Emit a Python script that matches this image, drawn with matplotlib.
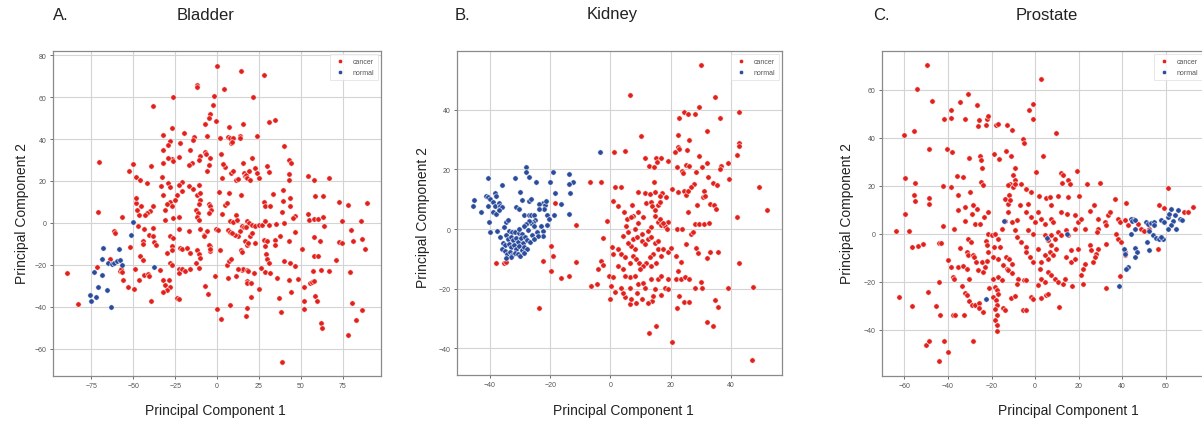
import numpy as np
import matplotlib
matplotlib.use("Agg")
import matplotlib.pyplot as plt

plt.rcParams['font.family'] = ['Liberation Sans', 'DejaVu Sans']

# ---- donnees (PC1, PC2) ----
bladder_cancer = [
    (0, 75), (-12, 66), (-12, 65), (-26, 60), (-38.4, 55.6), (-2, 60.4), (-2.2, 56.4), (-4, 52), (-5, 50),
    (-0.5, 48.5), (-7, 47), (-26.6, 45.3), (-32, 42), (-20, 43), (-13.6, 41), (-14.4, 39.7), (-6, 41.6),
    (-28, 39), (-29, 37), (-32, 35), (-22, 38), (-16, 35), (-7, 34), (-6.3, 33), (-10, 32), (-27, 30.5),
    (-26, 29.5), (-29, 31), (-32, 28.6), (-39.4, 27), (-22.6, 31.5), (-15, 28.6), (-10.6, 30), (-4, 31),
    (-5, 27.8), (-6, 25), (-16.5, 27.5), (-50, 28), (-52.6, 24.6), (-70.5, 29), (-48.6, 22), (-46, 20.7),
    (-42, 19), (-33, 21.8), (-29, 19), (-27.8, 17), (-32, 13.5), (-33.3, 17.5), (-20.7, 19.5), (-23, 18),
    (-17, 17.5), (-10.6, 18), (-14.6, 16), (-12, 13.5), (-10, 14.3), (-5, 9), (-10.4, 11), (-11, 9),
    (-12.4, 6), (-11.6, 4.8), (-12, 3), (-11, 1.6), (-4, 8), (-3.8, 6.4), (-4.8, 4.8), (-21, 15),
    (-24, 13.5), (-28, 10), (-25, 11), (-27, 8), (-31, 6.4), (-30, 9), (-23, 3), (-26, 2.4), (-31, 1.3),
    (-38.4, 8), (-40, 5.6), (-42, 4.8), (-43, 3.6), (-46.5, 4), (-47.6, 6.4), (-48.6, 9.5), (-48.6, 12),
    (-45.5, 8), (-71, 5), (-57, 3), (-61.4, -4), (-60.8, -5), (-52, -11.5), (-47, -1.6), (-43.5, -3),
    (-38.4, -2.4), (-40.4, -5.6), (-38.4, -6.4), (-44.5, -8.7), (-44, -10), (-37.4, -9.2), (-36.4, -10.3),
    (-28, -6.4), (-26, -7), (-27, -11), (-27, -12.7), (-30, -14.3), (-22, -12), (-21, -12.6), (-18, -12),
    (-16, -14.3), (-12, -12.7), (-10.6, -15), (-10, -16.7), (-4, -13.5), (-4, -11), (-8, -5.6), (-17, -4),
    (-10, -3), (-6, -4), (-46, -16), (-44.5, -17.5), (-49, -22), (-43.5, -24.6), (-41.5, -24.3),
    (-40.5, -25.4), (-46.5, -27), (-56.3, -27.3), (-53, -30.5), (-49.6, -31.5), (-34, -22.6), (-32, -27),
    (-31, -29.4), (-28.6, -27), (-28, -30.5), (-30, -31.8), (-32, -33), (-28, -19), (-26.6, -19.9),
    (-23, -22), (-22.6, -23.7), (-21, -22), (-19, -23), (-24, -35.8), (-22.5, -36.3), (-39.4, -37),
    (-16, -22), (-12.4, -19), (-11, -21.6), (-7, -30), (-5.5, -34), (-1, -25.4), (0, -41), (-63.8, -17),
    (-72, -21), (-58, -23), (-83, -38.5), (-89.8, -24), (-23, -3), (-4.8, -10.3), (-7.5, -6.4),
    (-4.3, -12.4), (-57.6, -21.8), (-57, -23.5),
    (14.2, 72.3), (28.2, 70.4), (4.2, 64), (21.8, 60), (30.8, 48), (34.8, 49.3), (7.2, 45.8), (15.6, 47),
    (1.8, 40.5), (6.4, 41), (7.8, 40.5), (9.8, 40.5), (13.8, 41.6), (13.8, 40.5), (8.2, 38), (9.2, 38.5),
    (24, 41.3), (39.8, 36.6), (4.8, 26.5), (8.2, 24), (2.8, 21.5), (11.2, 20.7), (15.8, 28.6), (16, 23.8),
    (16.8, 22.3), (17.4, 23), (17.8, 21.5), (20.8, 31), (22.8, 26.2), (23.8, 23.8), (24.8, 21.5),
    (19.4, 24.6), (19.8, 20.3), (29.8, 27.3), (31.2, 24.5), (43.2, 30), (44.2, 28.6), (43.2, 23.5),
    (43.2, 20.7), (54.2, 22.3), (58.2, 20.3), (66.8, 21.5), (1.2, 14.6), (7.2, 14.3), (14.4, 13.5),
    (4.8, 8.7), (5.8, 9.5), (3.2, 4.5), (11.2, 4), (7.6, 0.8), (9.8, 0.3), (11.8, 1.3), (18.2, 0.8),
    (19.2, 0), (20.8, -0.8), (22.8, -1.3), (24.8, -0.8), (26.8, -0.8), (27.8, 9.9), (28.4, 8), (31.8, 8),
    (28.8, 0.8), (30.8, -0.8), (35.2, -0.3), (33.4, 14), (39.4, 15.9), (39.4, 10.3), (38.8, 5), (43.8, 12),
    (43.8, 8), (46.4, 3.5), (45.6, 2.4), (54.2, 4.3), (54.8, 1.3), (58.2, 1.9), (60.2, 2), (63.4, 2.9),
    (63.8, -1.6), (58.8, 12.7), (63.2, 12.7), (72.8, 10), (78.2, 8.7), (89.4, 9.5), (74.8, 0.8),
    (80.2, -3.2), (85.8, 0.8), (86.8, -7.6), (88.2, -12.4), (81.4, -8.7), (72.8, -9.2), (74.8, -9.5),
    (71.4, -17.8), (79.2, -23.5), (80.8, -38), (86.8, -41.3), (83.2, -46.4), (78.2, -53.3), (38.8, -66.5),
    (62.4, -47.7), (62.8, -50), (51.8, -37), (51.8, -41), (58.8, -35), (59.8, -37.4), (55.4, -28.6),
    (56.8, -28), (57.8, -27.8), (51.8, -30.5), (38.2, -42.6), (44, -33), (37.2, -35.8), (43.2, -27),
    (39.8, -18.3), (43.8, -19), (46.8, -20.7), (42.8, -8.7), (46.4, -4.5), (37.8, -6.4), (39.8, 0),
    (50.8, -12.4), (48.4, -26.5), (57.2, -23), (62.4, -22.3), (66.8, -22.7), (58.2, -15.6), (60.2, -15.6),
    (57.8, -6.8), (61.8, -8.6), (34.8, -8), (34.8, -10.3), (27.8, -8.3), (29.8, -8.4), (28.8, -11),
    (29.2, -14.6), (29.8, -17), (30.8, -19), (26.4, -21.5), (28.8, -23.5), (31.8, -23.8), (35.8, -26.2),
    (24.8, -31.5), (20.2, -35.3), (18.2, -40.5), (17.2, -44.5), (14.8, -22.3), (15.8, -22), (17.8, -22.3),
    (18.8, -23), (17.8, -27.5), (18.2, -28.6), (20.4, -28.6), (22.4, -23.8), (12.4, -22), (11.2, -25.4),
    (8, -39.3), (2.4, -46), (6.8, -26.2), (6.2, -20), (7.2, -18.3), (1.8, -12.7), (8.2, -17), (14.4, -12.7),
    (14.8, -14), (16.8, -8.7), (17.8, -10.3), (18.8, -9.8), (22.8, -9.5), (19.8, -6.4), (21.2, -4.8),
    (14.8, -1.6), (16.4, -2), (17.2, -2), (13.8, -4), (12.8, -6), (10.8, -5.6), (6.8, -3.2), (7.8, -4.5),
    (8.8, -5), (-0.8, -2.7), (0.8, -3.2), (2.4, 32.8), (3.4, 28.3), (9.8, 24.8), (12.7, 20.8),
]
bladder_normal = [
    (-50, 0.3), (-51.2, -5.6), (-37.8, -21), (-58.7, -12.4), (-68, -12), (-68.5, -17), (-65.3, -19),
    (-63, -19.4), (-61.8, -19), (-59.8, -18.3), (-57.7, -17.5), (-56.7, -20), (-73.4, -23.4), (-68.5, -25),
    (-71, -30.5), (-65.5, -31.8), (-76, -34.5), (-72.6, -35.3), (-75, -37.4), (-63.6, -40),
]

kidney_cancer = [
    (-37.8, -11.2), (-35.2, -11.2), (-34.6, -11), (-18.4, 8.9), (-11.4, 1.3), (-19.8, -5.6), (-19.2, -8.9),
    (-19.8, -14), (-22.5, -10.6), (-16.3, -16.4), (-13.9, -15.7), (-11.4, -11), (-23.6, -26.5), (-6.8, 15.7),
    (-3.3, 15.9), (1.2, 25.7), (-1.3, 2.8), (-2.6, -3.1), (-6.5, -19.2), (-4.4, -18.5), (-4.1, -13.4),
    (-3, -10.6), (-2.4, -12), (-0.5, -15.7), (-0.2, -23.5), (1.6, 14), (1, 9.5), (0.5, -6), (1, -8.5),
    (0.2, -19), (1.5, -21), (0.8, -16),
    (30.1, 55), (6.6, 45.1), (34.8, 44.2), (29.5, 40.8), (24.3, 39.4), (25.7, 38.6), (28.2, 38.6),
    (22.7, 37.1), (36.2, 37.2), (42.8, 39.1), (32.1, 33), (22.4, 31.7), (25.9, 30), (10, 31.3), (42.8, 28.7),
    (42.6, 28), (41.9, 24.8), (4.7, 26.1), (22.4, 27.6), (22.9, 26.8), (21.5, 26), (25.5, 26.5), (29.5, 24.6),
    (11.4, 23.7), (15, 24), (16.7, 24), (15.5, 22.6), (19.1, 22.9), (12.8, 21.3), (14.4, 20.7), (22.2, 20.7),
    (23.8, 19.4), (24.0, 18.8), (25.1, 21.5), (26, 21), (28.4, 19.2), (30.4, 20.7), (32.1, 22.1), (36.7, 21),
    (36.5, 20.1), (38.9, 22), (32.3, 17.6), (33.9, 15.3), (35.4, 14.8), (39.2, 16.8), (3.4, 14), (27.7, 15.1),
    (26.8, 14), (31, 12.9), (20.5, 13.6), (22.4, 12.5), (24.4, 12.9), (25.1, 11.4), (25.7, 12.9), (49.4, 14),
    (51.9, 6.4), (14.3, 15.9), (17.1, 12.1), (16.3, 11.2), (18.3, 10.6), (9.2, 12.3), (11.4, 12.1), (13, 11.7),
    (14.7, 12.3), (11.7, 8.7), (13.3, 9), (13.9, 7.8), (15.8, 8.1), (16.5, 9), (14.9, 6.4), (25.7, 5.6),
    (28.8, 8.1), (30.7, 10.6), (31.4, 11.2), (32.9, 8.4), (34.2, 8.1), (35.1, 6.7), (7.3, 8.1), (9.2, 5.6),
    (4.5, 5.6), (7.5, 4.5), (5.5, 3.4), (2.5, 7.8), (42, 4.1), (19.1, 2.5), (15.8, 2.5), (16.7, 1.3), (18, 1.1),
    (18.9, 0), (22.2, 0), (23.8, 0.2), (26.6, -1.7), (27.3, -1.1), (28.2, 1.7), (29.3, 1.7), (31, 1.7),
    (32.6, 1.9), (32.9, -7.6), (35.6, -7.6), (25.1, -5), (28.4, -6.2), (29, -8.1), (32.1, -9.8),
    (42.8, -11.2), (38.9, -19.6), (47.4, -19.4), (21.8, -8.9), (23.5, -11), (22.4, -14), (21.8, -16.6),
    (23.5, -16.8), (24.6, -16.2), (26, -16.8), (27.9, -19.9), (30.4, -19.6), (30.1, -17.6), (22.9, -22.4),
    (24.3, -24.3), (25.9, -24.3), (22.2, -26.3), (34.7, -23.7), (35.6, -26), (32.1, -31), (33.9, -32.4),
    (15, -32.4), (12.8, -34.9), (20.5, -37.7), (46.9, -43.8), (19.1, -16.8), (18, -19.6), (19.1, -20.1),
    (16.9, -22.1), (13.9, -24), (14.1, -22.4), (14.7, -20.1), (8.6, -24.6), (6.4, -25.2), (6.9, -23.5),
    (10.3, -23.3), (12.5, -24.6), (4.7, -22.9), (4, -21.3), (3.6, -19.6), (6.4, -19.9), (8.9, -21.3),
    (6.4, -16.2), (8.1, -15.7), (9.2, -18.5), (10.8, -17.9), (11.4, -19.6), (13.6, -16.8), (15.8, -16.6),
    (16.9, -15.7), (6.4, -11.2), (7.5, -8.9), (8.6, -10.1), (9.5, -11.2), (8.1, -6.7), (6.9, -5.6),
    (5.8, -4.5), (7.5, -3.4), (8.9, -2.8), (10.3, -3.9), (11.4, -5), (12.5, -3.4), (13.6, -2.8), (14.7, -4.5),
    (15.8, -3.9), (15.8, -6.7), (14.1, -8.4), (13, -9.5), (11.9, -11.2), (10.8, -12.3), (9.7, -13.4),
    (13.6, -12.3), (15.2, -11.2), (16.9, -8.9), (17.4, -6.7), (19.1, -7.8), (20.2, -6.2), (2.5, -6.7),
    (3.6, -8.4), (4.7, -9.5), (2.5, -12.3), (4.2, -13.4), (4.7, -15.7), (16.3, 3.4), (14.7, 4.5),
    (17.4, 2.2), (13.6, 0.6), (12.5, -0.6), (10.3, -1.7), (8.1, 0), (5.8, -1.1), (4.2, -2.2), (9.2, 2.2),
    (10.8, 3.9), (6.9, 3.9), (5.3, 1.1),
]
kidney_normal = [
    (-27.9, 20.7), (-27.9, 19), (-27.1, 17.3), (-31.8, 17.1), (-40.7, 17.1), (-35.9, 14.8), (-24.6, 15.9),
    (-19.1, 19), (-13.6, 18.5), (-12.3, 15.9), (-13.6, 15.1), (-13.4, 12.1), (-20, 15.7), (-18.5, 12),
    (-16.3, 8.3), (-13.9, 5.1), (-18.7, 4.8), (-30.1, 12.3), (-41.4, 11.2), (-40.7, 10.6), (-39.8, 10),
    (-38.4, 12.1), (-37.9, 11.2), (-45.3, 9.7), (-45.6, 7.6), (-43.1, 5.9), (-40.5, 7.8), (-40.3, 2.5),
    (-39, 9), (-38.4, 7.8), (-38.9, 5.6), (-38.1, 5), (-37, 8.7), (-36.6, 7.8), (-35.9, 7.3), (-37, 6.4),
    (-34.8, 2.5), (-34.1, 3.1), (-37.6, -0.6), (-39.8, -0.9), (-31.2, 7.5), (-30.4, 6.7), (-29.3, 9.8),
    (-26.9, 9.5), (-26.3, 10), (-28.8, 4.7), (-27.1, 4.8), (-26.3, 4.7), (-25.5, 4.8), (-22.5, 8.9),
    (-21.8, 8.2), (-21.4, 9.5), (-22.2, 6.7), (-23.8, 8.4), (-23.6, 6.9), (-21.1, 4.8), (-20.5, 3.4),
    (-21.1, 1.5), (-24.9, 3.1), (-25.8, 2.5), (-26.3, 2.2), (-25.5, 1.1), (-23, 1.1), (-22.5, -0.6),
    (-22.5, -2.2), (-24.4, -1.1), (-24, -2.2), (-27.1, 2.8), (-27.9, 1.7), (-28.8, 1.1), (-33.7, -0.6),
    (-32.6, -0.9), (-31.5, -1.1), (-30.4, -1.3), (-29.3, -1.7), (-34.6, -2.1), (-33.9, -3.3), (-33.1, -2.5),
    (-32.2, -3.8), (-31.4, -2.9), (-30.7, -4.2), (-29.8, -3.1), (-29.1, -4.5), (-28.3, -2.6), (-27.6, -3.6),
    (-35.8, -4.6), (-34.9, -5.4), (-33.8, -4.9), (-32.9, -6.1), (-32.1, -5.2), (-31.2, -6.5), (-30.3, -5.6),
    (-29.5, -7.0), (-28.6, -5.9), (-27.8, -6.8), (-36.1, -6.6), (-35.1, -7.3), (-34.3, -8.2), (-33.4, -7.6),
    (-32.6, -8.7), (-31.6, -7.9), (-30.8, -8.5), (-29.9, -9.0), (-32.9, -9.4), (-34.8, -9.7), (-26.8, -4.4),
    (-26.1, -1.9), (-25.2, -3.2), (-27.4, -0.3), (-30.2, 0.2), (-35.4, 0.8), (-36.7, -2.6), (-28.7, -8.1),
    (-3.5, 25.7),
]

prostate_cancer = [
    (-49.8, 70.1), (-54.4, 60.1), (-47.2, 55.3), (-31, 58.3), (-34.5, 54.9), (-26.9, 53.8), (-38.6, 51.7),
    (-38.8, 48.3), (-41.7, 47.9), (-32.2, 47.9), (-25.6, 47.2), (-26, 44.7), (-22.3, 47.6), (-22.6, 45.1),
    (-21.8, 49), (-18, 45.4), (-17, 45.8), (-13.1, 45.4), (-10.8, 43), (-55.7, 42.9), (-60.2, 41),
    (-48.5, 35.4), (-40.6, 35.4), (-38, 34), (-30.2, 31.5), (-25.3, 32.4), (-24.9, 30.6), (-24.6, 27.5),
    (-18.9, 33.3), (-16.5, 31), (-13.4, 34.3), (-11.3, 32.4), (-24.9, 21.7), (-23.8, 20.3), (-35.7, 23.9),
    (-33.3, 23.6), (-9.3, 27.5), (-10.1, 24.3), (-9.3, 22.2), (-11.6, 20.8), (-12.4, 20.1), (-5.5, 39.6),
    (-5.2, 37.8), (-2.7, 51.7), (-1.2, 47.9), (-0.9, 54.2), (0.3, 25.7), (-59.7, 23.2), (-55.1, 21.1),
    (-55.4, 16.3), (-55.1, 13.5), (-48.5, 14.9), (-48.5, 12.5), (-42.4, 19.7), (-38.6, 19.4), (-59.7, 8.1),
    (-63.8, 1), (-57.7, 1), (-56.3, -5.6), (-54, -5.3), (-51.6, -4.4), (-44, -3.8), (-43, -3.9), (-42.1, 3.2),
    (-37.3, 2.1), (-40.2, -11.1), (-38.6, -13.9), (-35.6, -13.9), (-37.9, -18), (-37.3, -18.8), (-44, -20.1),
    (-49, -24.3), (-62.4, -26.4), (-56.3, -30.3), (-45.6, -30.3), (-43.7, -34), (-37.9, -34), (-36.8, -34),
    (-32.5, -34), (-50.2, -46.5), (-48.7, -44.7), (-41.8, -44.7), (-39.8, -49.3), (-44, -53), (-28.7, -44.9),
    (-35.3, 16), (-28.4, 11.8), (-29.9, 17.4), (-26.9, 10.4), (-23.5, 6.9), (-21.5, 9), (-35.3, 9.7),
    (-32.2, 11.1), (-29.2, 8.3), (-32.2, 5.1), (-27.6, 4.2), (-25.3, 4.2), (-31, -2.1), (-29.5, -3.5),
    (-34.5, -6), (-31.2, -7.6), (-30.8, -9), (-28.7, -8.8), (-28.1, -9.7), (-27.2, -11.8), (-24.6, -11.8),
    (-22, -11.5), (-33, -13.6), (-31.2, -14.6), (-30.2, -18.8), (-26.1, -15.3), (-23.8, -16), (-23, -13.9),
    (-33.7, -21.8), (-32.2, -24.6), (-31.2, -25.7), (-30.2, -28.1), (-29.2, -29.9), (-27.6, -29.6),
    (-25.8, -28.8), (-25.6, -31), (-23.8, -32.6), (-21.2, -22.6), (-18.5, -22.2), (-17.7, -23.6), (-17, -25),
    (-19.3, -26.4), (-18, -27.8), (-17.7, -29.9), (-18.5, -31.3), (-17.7, -34), (-18.2, -36.1),
    (-17.4, -38.2), (-17.4, -40.7), (-19.2, -18.8), (-17, -18), (-15.4, -19.4), (-14.7, -31), (-13.9, -31.7),
    (-11.1, -26.8), (-9.3, -26), (-5.5, -31.9), (-4.3, -31.9), (-21.8, 0), (-20, -0.7), (-22.6, -3.2),
    (-22.3, -4.9), (-18.5, 0), (-17, -2.1), (-18.8, -5.6), (-16.2, -5.6), (-21.5, -7.6), (-19.2, -9.7),
    (-17, -10.7), (-13.4, -9.7), (-11.9, -10.4), (-10.8, -12.5), (-14.6, -13.2), (-13.1, -14.6),
    (-12.4, -15.3), (-10.4, -16.2), (-15.4, 2.1), (-13.9, 5.3), (-12.4, 9), (-10.8, 4.9), (-8.5, 5.6),
    (-9.3, 1.4), (-13.9, 14.6), (-12.4, 12.5), (-11.9, 16), (-11.6, 13.9), (-10.1, 19.4), (-9.3, 20.8),
    (-6.3, 20.8), (-4, 18.8), (-1.7, 17.4), (-3.2, 12.5), (-7, 11.8), (-4, 9), (-1.7, 6.9), (-3.2, 1.4),
    (-0.9, 0), (-0.2, 4.9), (-8.5, -1.4), (-6.3, -3.5), (-4.3, -5.6), (-4, -7.6), (-2.4, -9.7), (-0.9, -11.8),
    (-7.7, -18.8), (-5.2, -19.2), (-4, -19.4), (-8.5, -20.8), (-1.7, -26.4), (-0.9, -27.1),
    (2.6, 64.3), (9.5, 42.1), (3.7, 32.4), (11.8, 25.4), (12.8, 24.3), (12.4, 21.3), (15.1, 22.2),
    (16.2, 20.8), (19.2, 26), (24, 20.6), (30, 21.1), (1.7, 15.7), (5.2, 14.9), (6.7, 15.3), (10.5, 15.7),
    (15.1, 15.3), (20, 15.7), (7.5, 11.8), (11.8, 9), (14.8, 8.1), (26.9, 12.1), (25.3, 9.4), (36.8, 14.3),
    (41.8, 12.9), (61.2, 19.2), (57.1, 12.1), (59.4, 10.8), (68.5, 9), (70.4, 9), (72.4, 11.1), (1.4, 9),
    (2.9, 6.2), (7.5, 6.2), (8.2, 4.9), (4.4, 4.2), (18.2, 7.6), (19.7, 4.9), (21.2, 6.2), (18.2, 2.1),
    (22.7, 2.1), (28.9, 6.2), (31.9, 4.9), (33.4, 7.6), (34.2, 9), (32.7, 3.5), (28.9, 2.1), (28.5, 0.7),
    (38, 6.2), (38.8, 4.9), (41.4, 5.6), (42.6, 3.5), (44.9, 6.2), (47.2, 4.2), (48.7, 2.1), (50.2, 1),
    (52.5, 2.1), (37.2, 0), (38, -2.1), (39.5, -3.5), (41.1, -7.6), (41.4, -9), (56.3, -6.3), (32.7, -4.4),
    (28.9, -6.3), (25, -4.9), (25.8, -6.9), (28.1, -8.3), (27.3, -9.7), (26.6, -11.8), (22.7, -12.5),
    (22, -14.6), (21.2, -17.4), (16.6, -11.8), (18.2, -10.4), (19.7, -6.3), (16.6, -6.9), (14.3, -9.7),
    (14.3, 1.4), (15.1, -0.7), (10.5, 0.7), (12, -0.7), (7.5, -0.7), (9, -2.1), (5.9, -2.8), (4.4, -0.7),
    (7.5, -4.9), (9.8, -6.3), (6.7, -7.6), (8.2, -9), (5.9, -10.4), (4.4, -9), (1.4, -6.3), (2.9, -11.8),
    (2.1, -14.6), (5.9, -16), (7.5, -17.4), (9, -18.8), (10.5, -20.1), (12.8, -20.8), (13.6, -18.8),
    (2.9, -18.8), (4.4, -20.1), (1.4, -21.5), (5.2, -25.7), (5.9, -25), (2.6, -26.8), (10.8, -30.6),
    (17.1, -21.8), (22, -20.8), (32.7, -22.6), (39.1, -17.6),
]
prostate_normal = [
    (43.8, 6.2), (44.6, 5.1), (45.7, 5.6), (51, 4.9), (51.8, 4.2), (53.3, 4.6), (54.8, 4.9), (54.5, 3.5),
    (52.5, 1), (54.1, -0.7), (55.6, -1.7), (57.1, -2.1), (58.6, -2.4), (57.6, -1.4), (51.5, -3.5),
    (52.1, -6.9), (57.9, 5.6), (59.4, 4.9), (60.9, 6.9), (61.7, 8.3), (62.4, 10.4), (64, 7.6), (63.2, 5.1),
    (62.4, 3.5), (64.7, 2.1), (66.3, 6.2), (67.3, 5.6), (65.5, 9.7), (60.9, 2.1), (40.6, -6.3), (41.4, -8.3),
    (45.7, -6), (46.7, -7.6), (45.7, -9.7), (42.6, -13.9), (41.8, -14.6), (38.5, -21.8), (44.1, 0),
    (45.7, 2.1), (14.8, 0), (5.3, -1.9), (-14.4, 5.1), (-22.6, -27.4),
]

panels = [
    ("A.", "Bladder", bladder_cancer, bladder_normal),
    ("B.", "Kidney", kidney_cancer, kidney_normal),
    ("C.", "Prostate", prostate_cancer, prostate_normal),
]
xlims = [(-98, 98), (-50.9, 56.9), (-70.3, 78.0)]
ylims = [(-73, 82), (-48.9, 59.7), (-59.3, 76.1)]
xticks = [np.arange(-75, 76, 25), np.arange(-40, 41, 20), np.arange(-60, 61, 20)]
yticks = [np.arange(-60, 81, 20), np.arange(-40, 41, 20), np.arange(-40, 61, 20)]

# positions en pixels (gauche, bas, largeur, hauteur) sur 1202x427
W, H = 1202, 427
boxes = [(53, 50, 328, 325), (457, 51, 325, 324), (882, 50, 323, 325)]
titles_x = [(53, 206), (455, 612), (873, 1047)]
xlab_x = [215, 623, 1068]
ylab = [(22, 213), (423, 218), (847, 213)]

RED = "#e3211c"
BLUE = "#2b4c9c"

fig = plt.figure(figsize=(W / 100, H / 100), dpi=100)
for i, (letter, name, cancer, normal) in enumerate(panels):
    l, b, w, h = boxes[i]
    ax = fig.add_axes([l / W, b / H, w / W, h / H])
    c = np.array(cancer)
    n = np.array(normal)
    ax.scatter(c[:, 0], c[:, 1], s=15, color=RED, edgecolor="white", linewidth=0.4,
               label="cancer", zorder=3)
    ax.scatter(n[:, 0], n[:, 1], s=15, color=BLUE, edgecolor="white", linewidth=0.4,
               label="normal", zorder=3)
    ax.set_xlim(*xlims[i])
    ax.set_ylim(*ylims[i])
    ax.set_xticks(xticks[i])
    ax.set_yticks(yticks[i])
    ax.grid(True, color="#d4d4d4", linewidth=0.8)
    ax.set_axisbelow(True)
    for s in ax.spines.values():
        s.set_color("#8a8a8a")
        s.set_linewidth(0.9)
    ax.tick_params(labelsize=5, colors="#555555", length=2.5, width=0.6, pad=2)
    leg = ax.legend(loc="upper right", fontsize=5, markerscale=0.8, handletextpad=0.8,
                    borderpad=0.5, labelspacing=0.6, frameon=True, fancybox=False)
    leg.get_frame().set_edgecolor("#dddddd")
    leg.get_frame().set_linewidth(0.6)
    for t in leg.get_texts():
        t.set_color("#555555")

    tx, cx = titles_x[i]
    fig.text(tx / W, 1 - 15 / H, letter, fontsize=12, ha="left", va="center", color="#222222")
    fig.text(cx / W, 1 - 15 / H, name, fontsize=12, ha="center", va="center", color="#222222")
    fig.text(xlab_x[i] / W, 1 - 411 / H, "Principal Component 1", fontsize=10,
             ha="center", va="center", color="#222222")
    fig.text(ylab[i][0] / W, 1 - ylab[i][1] / H, "Principal Component 2", fontsize=10,
             ha="center", va="center", rotation=90, color="#222222")

fig.savefig("out.png", dpi=100)
